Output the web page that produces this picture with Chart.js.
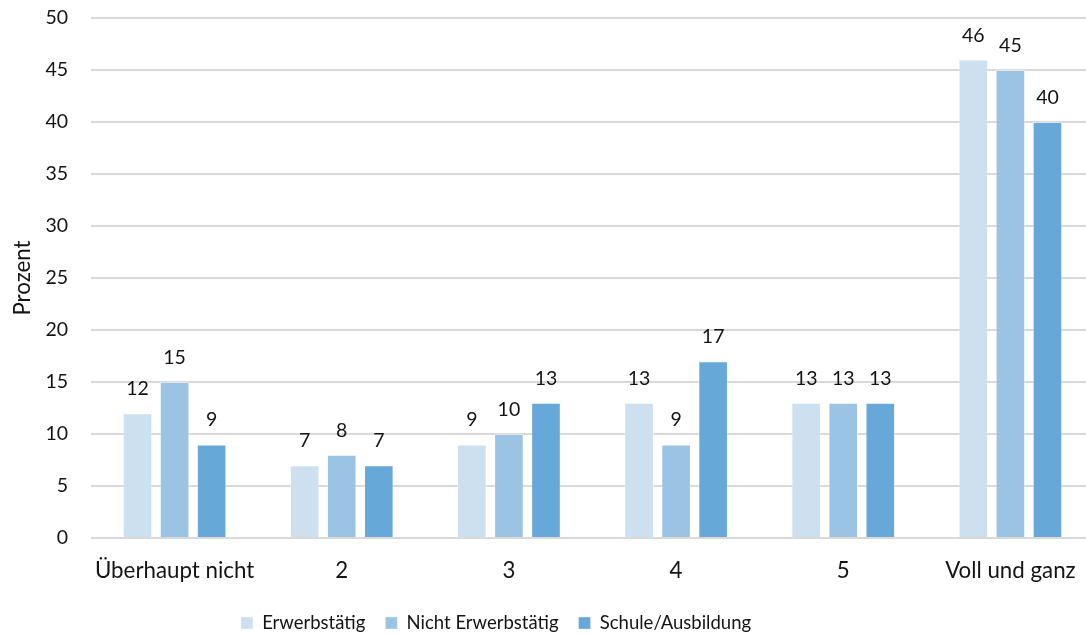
<!DOCTYPE html>
<html><head><meta charset="utf-8">
<script src="https://cdn.jsdelivr.net/npm/chart.js@4.4.1/dist/chart.umd.min.js"></script>
<style>
html,body{margin:0;padding:0;background:#fff;overflow:hidden;width:1086px;height:634px}
#wrap{width:1094px;height:634px;position:relative}
</style>
</head><body><div id="wrap"><canvas id="c" width="1094" height="634"></canvas></div>
<script>
const categories = ['Überhaupt nicht', '2', '3', '4', '5', 'Voll und ganz'];
const seriesNames = ['Erwerbstätig', 'Nicht Erwerbstätig', 'Schule/Ausbildung'];
const erwerbstaetig = [12, 7, 9, 13, 13, 46];
const nichtErwerbstaetig = [15, 8, 10, 9, 13, 45];
const schuleAusbildung = [9, 7, 13, 17, 13, 40];
const yTicks = [0, 5, 10, 15, 20, 25, 30, 35, 40, 45, 50];
const yTitle = 'Prozent';
const seriesColors = ['#cde0f0', '#9bc3e3', '#66a8d7'];

const FONT = 'Lato';
const FS_NUM = 19.5;   // y ticks + value labels
const FS_CAT = 22.3;   // category labels + axis title
const FS_LEG = 18.5;   // legend
const TEXT = '#141414';

const valueLabels = {
  id: 'valueLabels',
  afterDraw(chart) {
    const ctx = chart.ctx;
    ctx.save();
    ctx.font = FS_NUM + 'px ' + FONT;
    ctx.fillStyle = TEXT;
    ctx.textAlign = 'center';
    ctx.textBaseline = 'alphabetic';
    chart.data.datasets.forEach((ds, di) => {
      const meta = chart.getDatasetMeta(di);
      meta.data.forEach((bar, i) => {
        ctx.fillText(String(ds.data[i]), bar.x, bar.y - 18);
      });
    });
    ctx.restore();
  }
};

const legendShift = {
  id: 'legendShift',
  afterLayout(chart) {
    const lg = chart.legend;
    if (!lg) return;
    const dx = -51, dy = 5.75;
    lg.left += dx; lg.right += dx;
    lg.top += dy; lg.bottom += dy;
  }
};

const rawSeries = [erwerbstaetig, nichtErwerbstaetig, schuleAusbildung];

new Chart(document.getElementById('c'), {
  type: 'bar',
  data: {
    labels: categories,
    datasets: rawSeries.map((d, i) => ({
      label: seriesNames[i],
      data: d,
      backgroundColor: seriesColors[i],
      borderColor: 'rgba(255,255,255,0.35)',
      borderWidth: 1,
      categoryPercentage: 0.665,
      barPercentage: 0.8
    }))
  },
  options: {
    responsive: false,
    animation: false,
    devicePixelRatio: 1,
    layout: { padding: { left: 0, right: 0, top: 18, bottom: 0 } },
    plugins: {
      tooltip: { enabled: false },
      legend: {
        position: 'bottom',
        maxHeight: 46,
        labels: {
          font: { family: FONT, size: FS_LEG },
          color: TEXT,
          boxWidth: 12,
          boxHeight: 12,
          padding: 20
        }
      }
    },
    scales: {
      x: {
        grid: { display: false },
        border: { display: false },
        ticks: { font: { family: FONT, size: FS_CAT }, color: TEXT, padding: 11, maxRotation: 0, autoSkip: false },
        afterFit(s) { s.height = 50; s.paddingLeft = 0; s.paddingRight = 0; }
      },
      y: {
        z: 1,
        min: 0,
        max: 50,
        afterBuildTicks(s) { s.ticks = yTicks.map(v => ({ value: v })); },
        grid: { color: 'rgba(0,0,0,0.15)', lineWidth: 2, drawTicks: false },
        border: { display: false },
        ticks: { font: { family: FONT, size: FS_NUM }, color: TEXT, padding: 23 },
        title: { display: true, text: yTitle, font: { family: FONT, size: FS_CAT }, color: TEXT, padding: { top: 9, bottom: 0 } },
        afterFit(s) { s.width = 91; s.paddingTop = 0; s.paddingBottom = 0; }
      }
    }
  },
  plugins: [valueLabels, legendShift]
});
</script>
</body></html>
